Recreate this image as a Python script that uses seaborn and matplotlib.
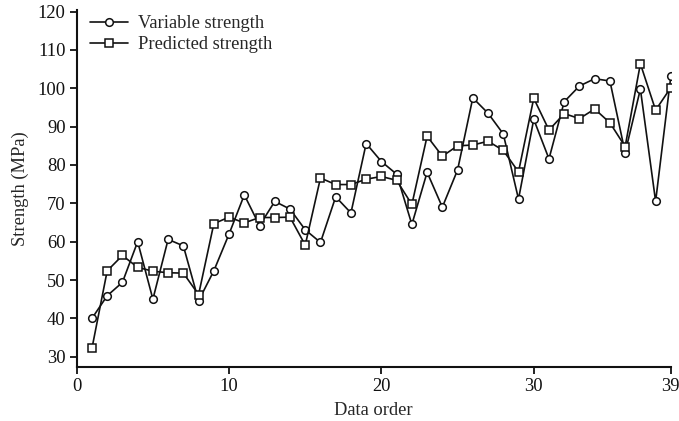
import matplotlib
matplotlib.use("Agg")
import matplotlib.pyplot as plt
import seaborn as sns
import pandas as pd

# Measured vs. predicted compressive strength for each sample
data_order = list(range(1, 40))
variable_strength = [
    40.0, 45.9, 49.4, 60.0, 45.0, 60.6, 58.9, 44.6, 52.4, 62.0,
    72.2, 64.2, 70.5, 68.5, 63.1, 59.8, 71.7, 67.5, 85.6, 80.9,
    77.6, 64.5, 78.1, 69.0, 78.7, 97.5, 93.5, 88.1, 71.1, 91.9,
    81.6, 96.5, 100.6, 102.5, 101.9, 83.2, 99.8, 70.5, 103.2,
]
predicted_strength = [
    32.2, 52.4, 56.4, 53.3, 52.3, 51.9, 51.8, 46.2, 64.7, 66.4,
    64.9, 66.3, 66.3, 66.4, 59.1, 76.6, 74.9, 74.9, 76.3, 77.0,
    76.0, 69.7, 87.5, 82.3, 85.0, 85.2, 86.2, 83.8, 78.2, 97.4,
    89.1, 93.4, 92.1, 94.6, 91.0, 84.8, 106.4, 94.3, 100.2,
]
x_ticks = [0, 10, 20, 30, 39]
y_ticks = [30, 40, 50, 60, 70, 80, 90, 100, 110, 120]

df = pd.DataFrame({
    "order": data_order * 2,
    "strength": variable_strength + predicted_strength,
    "series": ["Variable strength"] * 39 + ["Predicted strength"] * 39,
})

sns.set_style("ticks")
plt.rcParams["font.family"] = ["Liberation Serif", "DejaVu Serif"]
fs = 13.3
plt.rcParams["font.size"] = fs

fig = plt.figure(figsize=(6.79, 4.21), dpi=100)
ax = fig.add_axes([0.113, 0.129, 0.875, 0.848])

sns.lineplot(
    data=df, x="order", y="strength", hue="series", style="series",
    markers={"Variable strength": "o", "Predicted strength": "s"},
    dashes=False, palette={"Variable strength": "#111111", "Predicted strength": "#111111"},
    markersize=5.5, markerfacecolor="white", markeredgecolor="#111111",
    markeredgewidth=1.1, linewidth=1.2, ax=ax, sort=False,
)

ax.set_xlim(0, 39)
ax.set_ylim(27.4, 120.5)
ax.set_xticks(x_ticks)
ax.set_yticks(y_ticks)
ax.set_xlabel("Data order", fontsize=fs, labelpad=5)
ax.set_ylabel("Strength (MPa)", fontsize=fs, labelpad=6)
ax.tick_params(direction="out", length=5, width=1.3, colors="#111111",
               labelsize=fs, pad=3)
for side in ("left", "bottom"):
    ax.spines[side].set_linewidth(1.5)
    ax.spines[side].set_color("#111111")
sns.despine(ax=ax)

leg = ax.legend(loc="upper left", bbox_to_anchor=(0.0, 1.02), frameon=False,
                handlelength=2.1, handletextpad=0.5, labelspacing=0.2,
                fontsize=fs, borderaxespad=0.3)

fig.savefig("out.png", dpi=100)
